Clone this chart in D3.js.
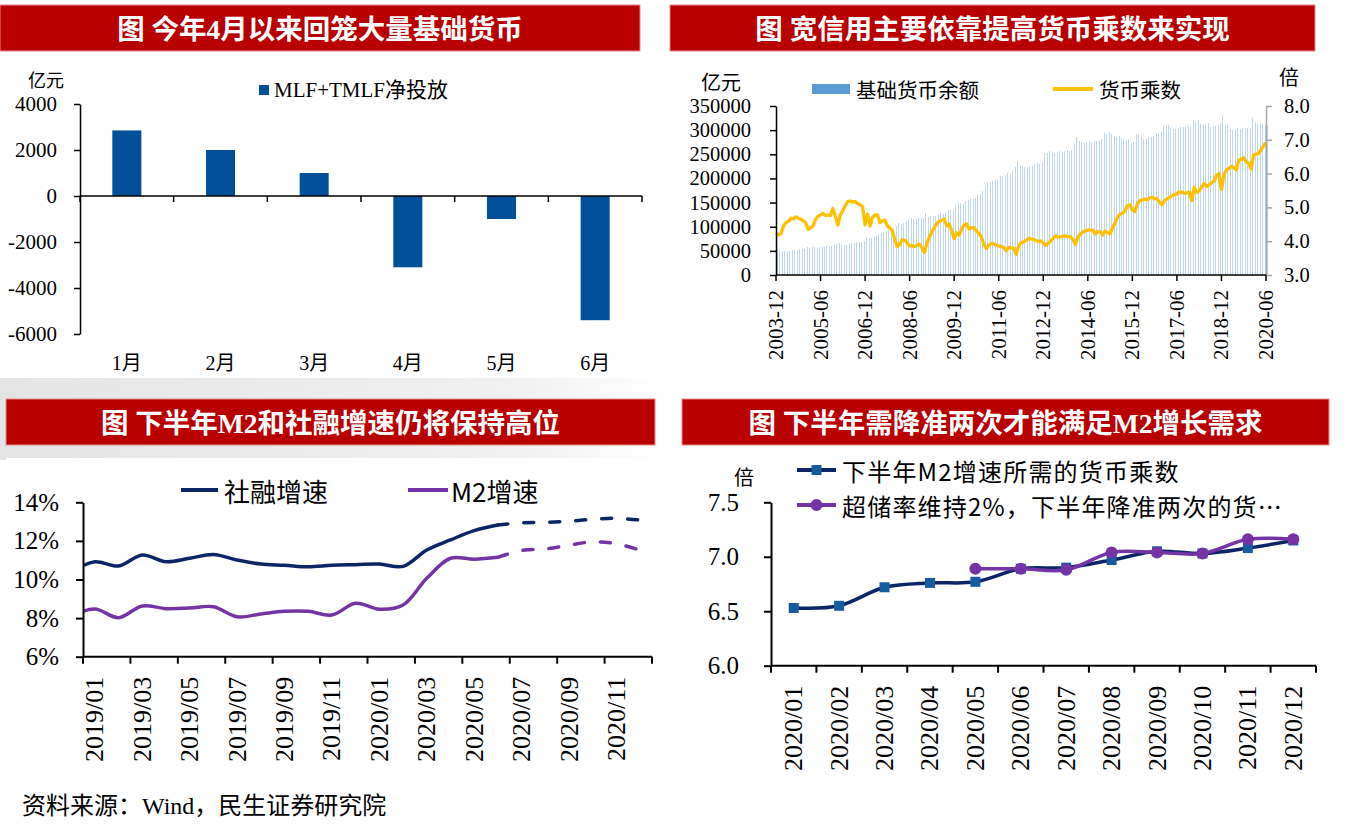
<!DOCTYPE html>
<html><head><meta charset="utf-8">
<script src="https://cdn.jsdelivr.net/npm/d3@7"></script>
<style>
body{margin:0;background:#fff;}
svg{display:block;}
</style></head><body>
<svg id="c" width="1356" height="835"></svg>
<script>
// ---------------- DATA ----------------
const panelTitles = ["图 今年4月以来回笼大量基础货币", "图 宽信用主要依靠提高货币乘数来实现",
  "图 下半年M2和社融增速仍将保持高位", "图 下半年需降准两次才能满足M2增长需求"];
const sourceNote = "资料来源：Wind，民生证券研究院";

// Panel 1
const p1Months = ["1月","2月","3月","4月","5月","6月"];
const p1Values = [2850, 2000, 1000, -3100, -1000, -5400];
const p1Ticks = [4000, 2000, 0, -2000, -4000, -6000];
const p1Legend = "MLF+TMLF净投放";
const p1Unit = "亿元";

// Panel 2 (monthly 2003-12 .. 2020-06)
const p2TickLabels = ["2003-12","2005-06","2006-12","2008-06","2009-12","2011-06","2012-12","2014-06","2015-12","2017-06","2018-12","2020-06"];
const p2LeftTicks = [0,50000,100000,150000,200000,250000,300000,350000];
const p2RightTicks = [3,4,5,6,7,8];
const p2Legend = ["基础货币余额","货币乘数"];
const baseMoney = [52841,
 51000,49800,49500,50000,50300,50800,51200,52000,53500,53000,54000,58856,
 56000,57500,57000,56500,57200,58300,58500,59500,61000,60500,61500,64343,
 67000,63000,62000,62500,63500,66000,67000,67500,68500,69000,70500,77758,
 76000,76500,78000,80000,82000,87000,88500,90000,93000,94000,96000,101545,
 108000,105000,108000,112000,115000,118000,117000,117000,118000,117500,119000,129222,
 121000,121500,122500,122500,125000,128000,127000,129000,134000,134000,135500,143985,
 149000,150000,148000,153000,155000,157000,158000,159000,165000,168000,175000,185311,
 190000,193000,194000,196000,198000,204000,205000,207000,212000,210000,215000,224642,
 237000,226000,225000,224000,223000,226000,225000,227000,232000,230000,235000,252345,
 253000,256000,254000,253000,255000,256000,255000,256000,258000,257000,259000,271023,
 286000,277000,274000,273000,275000,277000,276000,277000,277000,278000,282000,294093,
 293000,296000,291000,287000,285000,288000,283000,281000,280000,279000,274000,276377,
 291000,291000,285000,281000,282000,285000,286000,287000,291000,291000,296000,308979,
 311000,310000,306000,302000,303000,305000,306000,307000,307000,308000,307000,321870,
 317000,320000,313000,311000,310000,314000,306000,308000,309000,311000,312000,330956,
 308000,310000,303000,300000,301000,305000,302000,304000,305000,304000,305000,324175,
 316000,313000,315000,312000,310000,309000];
const moneyMultiplier = [4.25,
 4.18,4.22,4.45,4.55,4.58,4.68,4.66,4.72,4.68,4.65,4.60,4.55,
 4.35,4.40,4.45,4.65,4.74,4.78,4.82,4.76,4.78,4.76,4.97,4.72,
 4.48,4.78,4.90,5.05,5.17,5.19,5.16,5.17,5.12,5.08,5.02,4.48,
 4.80,4.45,4.70,4.78,4.78,4.55,4.60,4.62,4.45,4.40,4.30,4.05,
 3.84,3.90,4.04,4.03,3.95,3.86,3.86,3.84,3.88,3.92,3.80,3.67,
 3.95,4.12,4.28,4.40,4.52,4.60,4.62,4.65,4.45,4.51,4.30,4.08,
 4.25,4.18,4.35,4.48,4.51,4.36,4.40,4.40,4.30,4.23,4.13,3.90,
 3.79,3.88,3.94,3.92,3.89,3.86,3.84,3.82,3.72,3.82,3.80,3.80,
 3.61,3.85,3.96,3.97,4.02,4.08,4.07,4.06,4.02,3.99,4.01,3.94,
 3.87,3.95,4.00,4.08,4.16,4.12,4.13,4.15,4.16,4.14,4.13,4.05,
 3.90,4.12,4.21,4.27,4.31,4.33,4.33,4.33,4.21,4.29,4.28,4.18,
 4.30,4.25,4.22,4.40,4.55,4.70,4.80,4.82,4.90,5.05,5.08,4.92,
 4.88,5.10,5.20,5.22,5.25,5.22,5.28,5.30,5.25,5.26,5.15,5.08,
 5.20,5.25,5.30,5.34,5.38,5.40,5.46,5.45,5.42,5.43,5.45,5.20,
 5.59,5.44,5.50,5.60,5.71,5.62,5.66,5.73,5.78,5.95,6.00,5.53,
 5.95,6.11,6.15,6.22,6.18,6.11,6.40,6.42,6.47,6.35,6.30,6.13,
 6.55,6.58,6.60,6.70,6.82,6.92];

// Panel 3 (2018/12 is only the lead-in point, clipped at the axis)
const p3Periods = ["2018/12","2019/01","2019/02","2019/03","2019/04","2019/05","2019/06","2019/07","2019/08","2019/09","2019/10","2019/11","2019/12",
  "2020/01","2020/02","2020/03","2020/04","2020/05","2020/06","2020/07","2020/08","2020/09","2020/10","2020/11","2020/12"];
const p3Labels = ["2019/01","2019/03","2019/05","2019/07","2019/09","2019/11","2020/01","2020/03","2020/05","2020/07","2020/09","2020/11"];
const sfGrowth = [10.40,10.92,10.70,11.27,10.92,11.10,11.30,11.01,10.80,10.74,10.66,10.74,10.77,10.80,10.68,11.53,12.05,12.53,12.82];
const sfForecast = [12.82,12.94,12.96,13.02,13.12,13.17,13.08];
const m2Growth = [8.10,8.47,8.02,8.63,8.49,8.52,8.59,8.07,8.21,8.35,8.35,8.16,8.77,8.46,8.68,10.06,11.10,11.05,11.15];
const m2Forecast = [11.15,11.50,11.58,11.78,11.95,11.85,11.52];
const p3Ticks = [6,8,10,12,14];
const p3Legend = ["社融增速","M2增速"];

// Panel 4
const p4Months = ["2020/01","2020/02","2020/03","2020/04","2020/05","2020/06","2020/07","2020/08","2020/09","2020/10","2020/11","2020/12"];
const p4Required = [6.53,6.55,6.72,6.76,6.77,6.89,6.90,6.97,7.05,7.03,7.08,7.15];
const p4CutMonths = ["2020/05","2020/06","2020/07","2020/08","2020/09","2020/10","2020/11","2020/12"];
const p4CutValues = [6.89,6.89,6.88,7.04,7.04,7.03,7.16,7.16];
const p4Ticks = [6.0,6.5,7.0,7.5];
const p4Legend = ["下半年M2增速所需的货币乘数","超储率维持2%，下半年降准两次的货…"];
const unitTimes = "倍";

// ---------------- DRAW ----------------
const SERIF = '"Liberation Serif","Noto Sans CJK SC",serif';
const CJK = '"Noto Sans CJK SC","Liberation Serif",sans-serif';
const svg = d3.select("#c");
const defs = svg.append("defs");

// soft gray background bands
const gb = defs.append("linearGradient").attr("id","gband").attr("x1",0).attr("x2",1);
gb.append("stop").attr("offset",0).attr("stop-color","#E4E4E4");
gb.append("stop").attr("offset",0.75).attr("stop-color","#F0F0F0");
gb.append("stop").attr("offset",1).attr("stop-color","#FFFFFF");
svg.append("rect").attr("x",0).attr("y",378).attr("width",668).attr("height",82).attr("fill","url(#gband)");
svg.append("rect").attr("x",6).attr("y",458).attr("width",652).attr("height",330).attr("fill","#fff");

// title bars
const barBoxes = [[0,5,640,46],[670,5,645,46],[6,399,649,46],[682,399,647,46]];
panelTitles.forEach((t,i)=>{
  const [bx,by,bw,bh] = barBoxes[i];
  svg.append("rect").attr("x",bx).attr("y",by).attr("width",bw).attr("height",bh)
    .attr("fill","#B80000").attr("stroke","#E88A8A").attr("stroke-width",1);
  svg.append("text").attr("x",bx+bw/2).attr("y",by+bh/2+1).attr("text-anchor","middle")
    .attr("dominant-baseline","central").attr("fill","#fff").attr("font-weight","bold")
    .attr("font-family",SERIF).attr("font-size",27.5).text(t);
});

function styleAxis(g, size, color, sw){
  g.attr("font-family",SERIF).attr("font-size",size);
  g.selectAll("text").attr("fill","#000");
  g.selectAll("line,path").attr("stroke",color).attr("stroke-width",sw);
}

// ---- Panel 1 ----
{
  const g = svg.append("g");
  const x = d3.scaleBand().domain(p1Months).range([80,642]).paddingInner(0.69).paddingOuter(0.345);
  const y = d3.scaleLinear().domain([-6000,4000]).range([334,104]);
  g.selectAll("rect.bar").data(p1Values).join("rect").attr("class","bar")
    .attr("x",(d,i)=>x(p1Months[i])).attr("width",x.bandwidth())
    .attr("y",d=>y(Math.max(0,d))).attr("height",d=>Math.abs(y(d)-y(0))).attr("fill","#03509A");
  const ay = g.append("g").attr("transform","translate(80,0)")
    .call(d3.axisLeft(y).tickValues(p1Ticks).tickSize(6).tickSizeOuter(0).tickPadding(17).tickFormat(d=>String(d)));
  styleAxis(ay,21,"#000",1.5);
  const x0 = x.range()[0];
  g.append("line").attr("x1",x0).attr("x2",x.range()[1]).attr("y1",y(0)).attr("y2",y(0)).attr("stroke","#000").attr("stroke-width",1.5);
  d3.range(p1Months.length+1).forEach(i=>{
    const bx = x0 + i*x.step();
    g.append("line").attr("x1",bx).attr("x2",bx).attr("y1",y(0)).attr("y2",y(0)+6).attr("stroke","#000").attr("stroke-width",1.5);
  });
  g.selectAll("text.xl").data(p1Months).join("text").attr("class","xl")
    .attr("x",d=>x(d)+x.bandwidth()/2).attr("y",363).attr("text-anchor","middle").attr("dominant-baseline","central")
    .attr("font-family",SERIF).attr("font-size",20).text(d=>d);
  g.append("rect").attr("x",259).attr("y",85).attr("width",10).attr("height",10).attr("fill","#03509A");
  g.append("text").attr("x",274).attr("y",90).attr("dominant-baseline","central").attr("font-family",SERIF).attr("font-size",21).text(p1Legend);
  g.append("text").attr("x",28).attr("y",79).attr("dominant-baseline","central").attr("font-family",CJK).attr("font-size",18).text(p1Unit);
}

// ---- Panel 2 ----
{
  const g = svg.append("g");
  const months = d3.timeMonth.range(new Date(2003,11,1), new Date(2020,6,1)).map(d3.timeFormat("%Y-%m"));
  const x = d3.scaleLinear().domain([0, months.length-1]).range([776,1266]);
  const yL = d3.scaleLinear().domain([0,350000]).range([275,106]);
  const yR = d3.scaleLinear().domain([3,8]).range([275,106]);
  g.selectAll("rect.b").data(baseMoney).join("rect").attr("class","b")
    .attr("x",(d,i)=>Math.round(x(i))+1).attr("width",1).attr("y",d=>yL(d)).attr("height",d=>yL(0)-yL(d))
    .attr("fill","#BDD7EF").attr("shape-rendering","crispEdges");
  g.append("path").datum(moneyMultiplier)
    .attr("d",d3.line().x((d,i)=>x(i)).y(d=>yR(d)))
    .attr("fill","none").attr("stroke","#FFC000").attr("stroke-width",3.3).attr("stroke-linejoin","round");
  const al = g.append("g").attr("transform","translate(776,0)")
    .call(d3.axisLeft(yL).tickValues(p2LeftTicks).tickSize(6).tickSizeOuter(0).tickPadding(19).tickFormat(d=>String(d)));
  styleAxis(al,20.5,"#000",1.5);
  const ar = g.append("g").attr("transform","translate(1266,0)")
    .call(d3.axisRight(yR).tickValues(p2RightTicks).tickSize(6).tickSizeOuter(0).tickPadding(12).tickFormat(d3.format(".1f")));
  styleAxis(ar,20.5,"#A6A6A6",1.5);
  g.append("line").attr("x1",776).attr("x2",1266).attr("y1",275).attr("y2",275).attr("stroke","#000").attr("stroke-width",1.5);
  p2TickLabels.forEach(lab=>{
    const tx = x(months.indexOf(lab));
    g.append("line").attr("x1",tx).attr("x2",tx).attr("y1",275).attr("y2",281).attr("stroke","#000").attr("stroke-width",1.5);
    g.append("text").attr("transform",`translate(${tx},290) rotate(-90)`).attr("text-anchor","end")
      .attr("dominant-baseline","central").attr("font-family",SERIF).attr("font-size",21).text(lab);
  });
  g.append("text").attr("x",701).attr("y",81).attr("dominant-baseline","central").attr("font-family",CJK).attr("font-size",20).text(p1Unit);
  g.append("text").attr("x",1289).attr("y",76).attr("text-anchor","middle").attr("dominant-baseline","central").attr("font-family",CJK).attr("font-size",20).text(unitTimes);
  g.append("rect").attr("x",812).attr("y",84).attr("width",38).attr("height",10).attr("fill","#5B9BD5");
  g.append("text").attr("x",856).attr("y",89).attr("dominant-baseline","central").attr("font-family",CJK).attr("font-size",20.5).text(p2Legend[0]);
  g.append("line").attr("x1",1053).attr("x2",1093).attr("y1",89).attr("y2",89).attr("stroke","#FFC000").attr("stroke-width",4);
  g.append("text").attr("x",1099).attr("y",89).attr("dominant-baseline","central").attr("font-family",CJK).attr("font-size",20.5).text(p2Legend[1]);
}

// ---- Panel 3 ----
{
  const g = svg.append("g");
  const left = 83, right = 652;
  const w = (right-left)/(p3Periods.length-1);
  const x = d3.scaleBand().domain(p3Periods).range([left-w, right]);
  const cx = p => x(p) + x.bandwidth()/2;
  const y = d3.scaleLinear().domain([6,14]).range([656.7,502.3]);
  defs.append("clipPath").attr("id","clip3").append("rect").attr("x",left).attr("y",450).attr("width",right-left+10).attr("height",220);
  const pl = g.append("g").attr("clip-path","url(#clip3)");
  const curve = d3.curveCatmullRom.alpha(0.5);
  const line = periods => d3.line().x((d,i)=>cx(periods[i])).y(d=>y(d)).curve(curve);
  const solidP = p3Periods.slice(0, sfGrowth.length);
  const fcP = p3Periods.slice(sfGrowth.length-1);
  [[sfGrowth,sfForecast,"#0B2566"],[m2Growth,m2Forecast,"#7434A6"]].forEach(([s,f,c])=>{
    pl.append("path").datum(s).attr("d",line(solidP)).attr("fill","none").attr("stroke",c).attr("stroke-width",3.5).attr("stroke-linecap","round");
    pl.append("path").datum(f).attr("d",line(fcP)).attr("fill","none").attr("stroke",c).attr("stroke-width",3.5)
      .attr("stroke-linecap","round").attr("stroke-dasharray","10,16");
  });
  const ay = g.append("g").attr("transform",`translate(${left},0)`)
    .call(d3.axisLeft(y).tickValues(p3Ticks).tickSize(7).tickSizeOuter(0).tickPadding(17).tickFormat(d=>d+"%"));
  styleAxis(ay,25,"#000",2);
  g.append("line").attr("x1",left).attr("x2",right).attr("y1",y(6)).attr("y2",y(6)).attr("stroke","#000").attr("stroke-width",2);
  const bounds = p3Labels.map(p=>x(p)).concat([right]);
  bounds.forEach(bx=>g.append("line").attr("x1",bx).attr("x2",bx).attr("y1",y(6)).attr("y2",y(6)+7).attr("stroke","#000").attr("stroke-width",2));
  p3Labels.forEach(p=>{
    g.append("text").attr("transform",`translate(${cx(p)},${y(6)+20}) rotate(-90)`).attr("text-anchor","end")
      .attr("dominant-baseline","central").attr("font-family",SERIF).attr("font-size",26).text(p);
  });
  g.append("line").attr("x1",181).attr("x2",218).attr("y1",490).attr("y2",490).attr("stroke","#0B2566").attr("stroke-width",4);
  g.append("text").attr("x",224).attr("y",490).attr("dominant-baseline","central").attr("font-family",CJK).attr("font-size",26).text(p3Legend[0]);
  g.append("line").attr("x1",408).attr("x2",448).attr("y1",490).attr("y2",490).attr("stroke","#7434A6").attr("stroke-width",4);
  g.append("text").attr("x",451).attr("y",490).attr("dominant-baseline","central").attr("font-family",CJK).attr("font-size",26).text(p3Legend[1]);
}

// ---- Panel 4 ----
{
  const g = svg.append("g");
  const x = d3.scaleBand().domain(p4Months).range([771,1316]);
  const cx = p => x(p) + x.bandwidth()/2;
  const y = d3.scaleLinear().domain([6,7.5]).range([665.7,502.3]);
  const curve = d3.curveCatmullRom.alpha(0.5);
  const navy = "#0B2566", mk = "#165C9E", purple = "#7434A6";
  g.append("path").datum(p4Required).attr("d",d3.line().x((d,i)=>cx(p4Months[i])).y(d=>y(d)).curve(curve))
    .attr("fill","none").attr("stroke",navy).attr("stroke-width",3.5);
  g.selectAll("rect.m").data(p4Required).join("rect").attr("class","m")
    .attr("x",(d,i)=>cx(p4Months[i])-5).attr("y",d=>y(d)-5).attr("width",10).attr("height",10).attr("fill",mk);
  g.append("path").datum(p4CutValues).attr("d",d3.line().x((d,i)=>cx(p4CutMonths[i])).y(d=>y(d)).curve(curve))
    .attr("fill","none").attr("stroke",purple).attr("stroke-width",3.5);
  g.selectAll("circle.m").data(p4CutValues).join("circle").attr("class","m")
    .attr("cx",(d,i)=>cx(p4CutMonths[i])).attr("cy",d=>y(d)).attr("r",6).attr("fill",purple);
  const ay = g.append("g").attr("transform","translate(771,0)")
    .call(d3.axisLeft(y).tickValues(p4Ticks).tickSize(7).tickSizeOuter(0).tickPadding(25).tickFormat(d3.format(".1f")));
  styleAxis(ay,25,"#000",2);
  g.append("line").attr("x1",771).attr("x2",1316).attr("y1",y(6)).attr("y2",y(6)).attr("stroke","#000").attr("stroke-width",2);
  p4Months.map(p=>x(p)).concat([1316]).forEach(bx=>g.append("line").attr("x1",bx).attr("x2",bx).attr("y1",y(6)).attr("y2",y(6)+7).attr("stroke","#000").attr("stroke-width",2));
  p4Months.forEach(p=>{
    g.append("text").attr("transform",`translate(${cx(p)},${y(6)+20}) rotate(-90)`).attr("text-anchor","end")
      .attr("dominant-baseline","central").attr("font-family",SERIF).attr("font-size",26).text(p);
  });
  g.append("text").attr("x",744).attr("y",476).attr("text-anchor","middle").attr("dominant-baseline","central").attr("font-family",CJK).attr("font-size",20).text(unitTimes);
  const l1 = 470, l2 = 505;
  g.append("line").attr("x1",797).attr("x2",836).attr("y1",l1).attr("y2",l1).attr("stroke",navy).attr("stroke-width",4);
  g.append("rect").attr("x",811.5).attr("y",l1-5).attr("width",10).attr("height",10).attr("fill",mk);
  g.append("text").attr("x",842).attr("y",l1).attr("dominant-baseline","central").attr("font-family",CJK).attr("font-size",24).attr("letter-spacing",1.2).text(p4Legend[0]);
  g.append("line").attr("x1",797).attr("x2",836).attr("y1",l2).attr("y2",l2).attr("stroke",purple).attr("stroke-width",4);
  g.append("circle").attr("cx",816.5).attr("cy",l2).attr("r",6).attr("fill",purple);
  g.append("text").attr("x",842).attr("y",l2).attr("dominant-baseline","central").attr("font-family",CJK).attr("font-size",24).attr("letter-spacing",1.2).text(p4Legend[1]);
}

// footer
svg.append("text").attr("x",22).attr("y",806).attr("dominant-baseline","central").attr("font-family",SERIF).attr("font-size",24).text(sourceNote);
</script>
</body></html>
